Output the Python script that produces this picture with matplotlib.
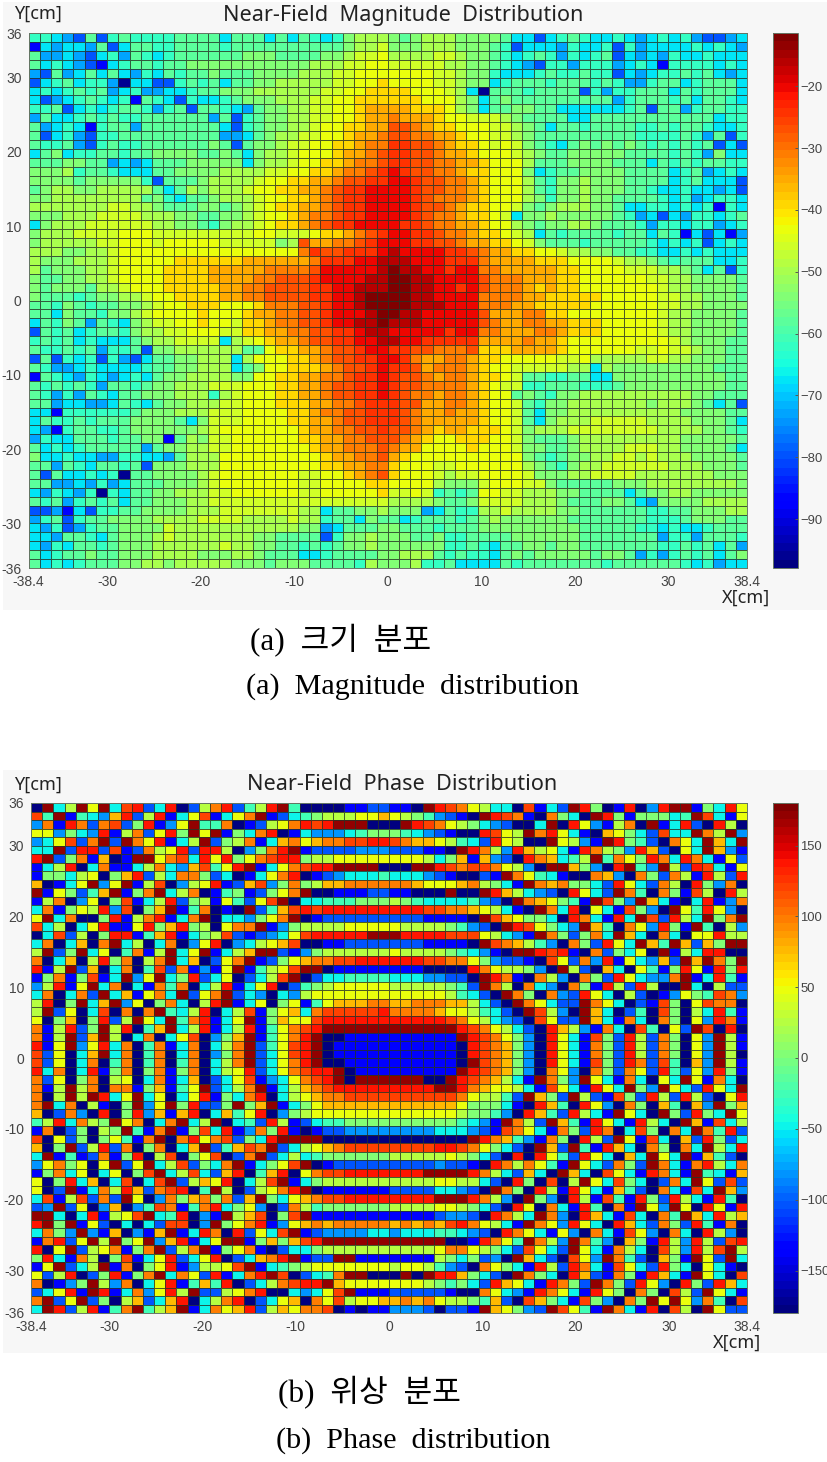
import numpy as np
import matplotlib
matplotlib.use("Agg")
import matplotlib.pyplot as plt
from matplotlib.patches import Rectangle

W, H = 827, 1462

# level letters
mag_levels = dict(zip("abcdefghijklmnopqrs",
                      [-96, -88, -79, -73, -67, -62, -58, -54, -50, -46, -43, -39, -35, -31, -27, -24, -20, -16, -12]))
phase_levels = dict(zip("abcdefghijklmn",
                        [-175, -140, -105, -80, -50, -25, 0, 25, 50, 75, 100, 120, 140, 170]))

# magnitude, top row (y=36) first, 64 cells per row
mag_rows = [
    "ffedcgcf gffffggg gegggege gfefhiii hghiiihh hhgeecef gfeefede fefdccde",
    "bedeedgc eggffggg gfgggggg gggghiij hhhiiihh hgfceeed feefcfde eeefefed",
    "gddedcef dgfefggg ggghhhgg gghhijjk iiiijjih hgfefgfd fefgcede dfeefeee",
    "gefedcbe fggfgghh hhhhhhhh hiiijjkk jjjjjiih hgfedcff dfffdefe bffffefe",
    "dcgdegeg edfegfgg hggghhhh iiijjkkk kkkkjjih hfeeefgf fgffcede ffgfgede",
    "cefgeffd aeeccfgf gegghhii iiijjkkl kkkkjjih hefgggfg ggfgfddf ggefggge",
    "efefgfgd efddeefg ghhhiiii iijjkkll llkkkjie agggfggg gcfdffgg gegfggge",
    "ecdefgfe fbgfecfe efghhhii ijjkklll lllkkkih eghggggg ggggdfgg gfgeggfe",
    "ffgcefef ggfdfgcg gfedghhi ijjkklmm mmlllkih egghhgge eeeeefgc ggdfggff",
    "dgeefgfg ffgggggg dgcfghhi ijjkklmm nmmmlkkj jjihgggg eegggggg gggggeff",
    "gdefebfg gdgggggg gecfghhi ijkkllmm oonmllkk kjjihgeg gfggggff gfggfeef",
    "gcefdcff gggggggg gddeghii jjkklmmn oonnmmlk kjjihggg ggggggff ffgfdgcf",
    "gffgdcfg ffgggggg hgcghhij jkkllmnn ppoonmll kjkjhgfe ghghghgf gfgfgcec",
    "egheffgg fgghhhhg ghgehiij kkklmmno ppoonmml kkkjihgg hhhhhggg gfgfdhee",
    "ggghhggd edeggghh hhhehiij kkllmnno ppoonnmm lkkkiggg hhhhggge gfgfggff",
    "hhhifggf eeegghhh hiiiijjk kllmnnop qpoonnml lkkkhefg ghhhhggg gefgdefe",
    "hhhhghhh hhfcgggh iiiijkkl lmmnoopp qqpoonnm lkkkigfh hihhhggg gefgeeec",
    "ghiihhii iiigegih iiijkkll mmnoppqq qqpoonnm lkkkigfh hihhhggf eefeedec",
    "hhiiiiii iighfegg hiiijkkl lmnoppqq qqponnnm lkkkihfh hihhgggg fefdeffe",
    "iiiiiiij jiihgggh hghijkll mmnoppqq qqpoonml lkkjhghi iihhgeef fefefbfe",
    "hhhiiijj jjiiihhg ghhijkkl mnnoppqq qqponnml lkjehhih hhhhgfde cedffefg",
    "ehiiijjj jjjiihhg fhiijkll mnoppqqq qpponnmm lkkihghh iihgggfd ffeffdef",
    "hiiijjjj kkkjjjjj jjjjkkjj jkllmnop qqpponnm llkjiegf ggggfgge gfbecebd",
    "hiiiiijj kkkjkkkk kjjjjjhi ommnnopq qqppoonm mllkjhgg gfgggggf efefcefe",
    "iiihhiij kkkkkkkk kkkkkkkk npoopppq rqqqqppo nmmllkkj iihhggff eefefeee",
    "ihhhiiij kkkkklll lllmmmmm mnpppqqr rrqqqppp nmmmmlll kkkkjiih gfgggeef",
    "ighhhiij kkkkllll mmmmmnnn noqqqqqr srrqqpqq nnmmmmml lkkkkjjj iihgegcf",
    "hgghhiij kkkkllll mmmmnnoo opqqqqrr ssrrqqqq onnnmmml lkkkkkkj jiihhhhg",
    "hghhhgii jkkkllll lmmnnooo oppqqrrr ssrrqqpq onnnmlml lkkkkkkk jiihhhhg",
    "hgggfghh iijkklll lmmnnooo oppqqrss ssrrqqqq nnnnmmll lllkkkkk jjiihhhg",
    "ggfhgfgg hhijkkll lkkklnnn oopqqrss ssrrrqqq nnnmmlll llkkkkkk jjiihhhh",
    "ggehggfh hijkkkkl kkklmmnn oopqqqrs srrqqqqq ommmnnll kkkkkkkk jiihhhhg",
    "egfhgdgf ehijjkkl kkjllmnn oopqqrrs rrrqqqqq onmmnnmm lllkkkkk jiihhhhg",
    "cgfgefgg fhiijjkk kjjllmmn nooppqrr qqqqqpqq nnmmmnnm lllkkkkk jiihhhhg",
    "fgfgefee eghiijjj jeijklmm nooppqqr rqqppppp mmmmnmml kkkkkkkk kjihhhgg",
    "gffgfgdf fgchhiii iiiggkll mmnoopqq ppoonnno lllmmmml kkkkkkjj kjjihhgg",
    "cgcfefcf dcegghhi iieikkkl lmnooppq qpnmmnnm llkkkkkj jkiiiiij jiihhhgg",
    "gfddefee eefgghhi iieghkkl llmnoopq ppomnnnm lkkjjjjj iieihhhh hhhhhggg",
    "bgfedfed efeghhii iihhkkll mmnnoppq poonmnnm llkjggff ggeehhhh hhhhhhgg",
    "gfgfgfdg gfghhiii jjjkkkll mmnooppq poonnnnm lkjjffgg gfffghhh hhhhhhgg",
    "gfdfdgfe gghhhiii fijkkkll mmnooppq ponnmnnm lkkghgfh hiiiiiii iiihhggg",
    "ggdeedde gfeghhii ijjkkkll lmmnnopp poommnnm lkkjgfhh iiiiiiih iiihgegc",
    "eebfffff fghhhiii jjjkkkkl lmnnoopp ponmmnmm lkkjgehh iiiiiiii iihhhhgg",
    "egffgfgg ghhhhgeh jjjkkkkl lmmnoopp ponmmmmm lkkjgehi iijjjjji iiihhhge",
    "edbfggff ghhhhhhi jkkkkkkk lmmnnoop oonmlmml llkjhiii jjjjjjjj iiiihhgf",
    "dfeegggf gghhbgih jjkkkkkk llmmnnoo onmlkkll lkkjhggg hiiiiiii iihhhhhg",
    "gefefggg ggdghhii jjkkkkkk klmmnnno nmmkkkkl kkkjhhgg hiiiijjj iihhhhge",
    "heefeedd ffeedgii ikkkkkkk kklmmnno mlkkkkkk kkkkhgfg hhiijjij iiihhhhg",
    "ggdgfegg fgchhhii ikkkkkkk kkllmmnn lkkkjjkk kkkkihgf hiijjjjj jiiihhhg",
    "gcgeefef agghhhhi jkkkkkkk jjkklmno lkkkjijj kkkkjhhh iijjjjii iiiiihhh",
    "ggddedfd eggghhhi jkkkkkkk jjkkkkll kkkkihhh jkkkjjhg gggghhhi iiiiiiih",
    "edfedfaf egghhiii jjkkkkkk jjkkkkkl jjkjfgfg kkjjiiih hggggegh hiihhhhh",
    "gfgdfgfg egghhhii jjjjjjjj jjjjjjjj iiiihggh jjjjiiih ggghhged hhhhiiii",
    "ccdbecff gghhhhii ijjjjjjj iiegghhi hhhdegff iijiiiih hggggggf fgghhhii",
    "dfgcfggh hhhiiiij jjjiiiij iifggehg gefgggfg hihhhhhh gggggggf ffghhhgg",
    "edfcdfgg hhhhjiii iiiiiiii hhdegggh hgggfggg hhhhhhhh hgggggff efeefggg",
    "eedggfeg hhhijiii iiiihhgg ggcfhhih hhgghffg ggghhhhh hggggggg dffdgggf",
    "edfeggfg hhhiiiii ijiihhgg fgfghhih hhhhhffg fegghhgh hggggggg ffgfgegd",
    "gefgghgg hhhiiiih hhiihggg eefggggh hiiigfgf feghghhh hhghhgdf dfgfgegh",
    "gefefggg hhiihiii iihhhghh hggggfih hhiffgee eegfgggg gggfgggg ggfefdee",
]

# phase, same layout
phase_rows = [
    "anehnine lmcemach kmcfhmnf aaaabbcc bbanmlki heealbec nmgabmad mnnbgemi",
    "lfnbfedj mchmbeil beiknbce fghhhiij ihgfdcba nmlkbakg eanmgbgg gefnlebi",
    "dkbmkckl cgmbdinf fkabchik mlmnnnaa anmlkihg edcaaena midbhkan bemcamha",
    "iidgedmb hkcimgni nbgekmab edddefgg gfedcbaa mlihnkmi ebajigec leenkhnd",
    "deilcknc nkimbehn cghkbejk ijkkllmm lkjjihfe cmihaani hdbnmgfc akienjen",
    "eencmmcl bckhimcm mhadgkmn bccccddd cccbbanm khdmjhie bmkhgdmj caienjdb",
    "mncgkbja bnniklem imgiklmm ghhiiiii iiihegjb jdcamkje fhnfkigm kemkebic",
    "behmaekb behkedjl fimnbeik lmmnnnna aannmlkl lkihdann jgdamnfd nhcmlebi",
    "bggehiag jmchekkg ceabeikm abcdeeef eeedcbaa cbnkifeb aakjdakg ckhbmhcm",
    "jabeindi nbhladhi mbcjldgk ghjjkkkk kkjiiijk hgebnkjk ggecmiec khamgdka",
    "nbigcfjn bgknehka bfgbcgik naabbbcc bbaaanaa nmjhedca miecnkfa kgblhamh",
    "bhkadiag lbehmcgh bifcilna eefffggg hgfeeeef dcankjig fbnlgdnj ebaembdk",
    "ekbgihmd lagjnbfk abancfjl mlmmmmmm mmmllkkj ihebanke maieblgd anifmida",
    "inekaagm bhkmbekn aeedgikn abcccccc cccbbbba nljiggea mkebmenl cmhengkn",
    "lehaeimb bimgjmgh aikknbdg hhhhiiii ihhhhgfd canmlige dnjfakid mgbnfahd",
    "aelchagm mbfjmbeg hlcbcdei lmmmmmnn nmmmmlll ihedbnkg cgkenjea keaiimhh",
    "ekaejakn ehaekadi madehijl aabbcccc cccbbbba nlkjhfda kgcmienj fnjcjgnn",
    "hncgneia fkbhnein behjnncb dghhhhhh ihhhhgfe dbannmlm bakcgeia nbhemmaa",
    "kaejahmg kahkneja ciknbcgi jkkllmmm mmmllkki gdccbali ckdmbied jcnjnkgn",
    "mbhncjae kaflckbd binbfhil nnabbbbb bbbaaaam kihhgdan hcajeaif bgmibmgm",
    "bgkbglbe ndinegmc eiacehln aceeffff eeeddcca nmkbakhd akgcmied dknbemfb",
    "dhmbinek aebkfkae hmbeimac fghiiiii hhhhhgfc nkhakeda kgbmhcmh aaneahcc",
    "ekaekcne jbikenci kncedaed hiiiiiii iiiiihfe cankgakd cmieahca bdigflkd",
    "hmagnejn diagkeah mnbeiagi bfijjjkk jjkkkjjh ecankiec cnkieacb lgailkka",
    "hnciaela kaknfehm aehlbgij eklllllm kkkkjiih fecanlhd anjeacfa lgahemfb",
    "iagjagmc hnienfkm beinbgji ilmmmmmm mmmmmlki hedcalic cnjebkea kgaidmkb",
    "kbhmcgnh mafjnehm behmbfik lmnnnnnn nnnnnnml kihecamj hdbkealf aicnlama",
    "kbhncjnh aekaeila dgjnbfik mnaabbbb bbbbbbnm lkigdami eblgcmhc kgaidnhb",
    "mbindime kafkbeka ehkncfil mnabbbbb bbbbbbam lkjgdami ebkgcmhc kgaidnhb",
    "lciaejne kafkaeka dgknceil mnabbbbb bbbbbbam lkjgdami ebkgcmhc kgaidnha",
    "lciaekaf kafkafka ehknceik mnaabbbb bbbbbban lkjgdami eblgcmkc lfajdnhb",
    "mekaembg kagkbgka ehimceik lmmnabbb bbbbbbnm lkjgdaki dakgckic mfcidmgb",
    "kciagkah iaekbeja ceilbdei klmnannn nnnaanml kjhebnkg dniebkea ienibkea",
    "kbhnhkak kbgjbfin cehknbeh jklmmmmm mmmmnnmk jiihebli ebmiengd niecmien",
    "kahnhnme ineiaeim bgekmaeh ijkkllll llllllki hhfcnjgc nhcblgcm hcmhcaim",
    "knekahba gndingmc cgngjnbe gijjjjjj jjjjjjig ggebamjf amidakga jfajdngj",
    "jackdama gmdjbjma ejfimadg hiiiiiii iiiiiihg gfdamjfc mhebniea ngcmgeni",
    "fhmekhgn ikaekneh naefcmhb ceffgggg ggggggfe dbnkhcnj fbmiebmh eanjbleh",
    "bkacgahg nfbknbgl embdkgmb abccdddd ddddeeed cblkiebk gcmkaelg akenkfmc",
    "laicgagi fbknakmi klcgemnn nnaaaaaa aaaaaaan mkjfdbkg amhcnibl eajcmgce",
    "jagnchmc kagkaejn cfjlknce hijkllll llllmmlk igecanjc nfbmjeak gakenhem",
    "enbfbckb gmahlagi lacknceh efgggggg hhhhhihg ecamamif cmieajen ienbjfca",
    "dikgiain cinehlcg eknbegil nabccccc ccccdccb amkhkifb nieckgcn kebkmhek",
    "bgkeiaei aglnehle cjmafjma ikllmmmm mmmnnnnm khecjean jealiebm kebnfebj",
    "iagmejae laelnchj imaehlnb eghhhhhh hhhhiihh ecamgala hnielgea ckeniclc",
    "iacnbekh mjcklmaf nhachikm nabbbbbb cccceedc ankgamhb miebjfca keblenjd",
    "elbhlckc niadkgjk gkcjngei jkllmmmm mmmmnnnm khdangda mhblfbmg cmhebmfa",
    "cdnciadj adflkbfk megidack hfgggggg hhhhiihg ecamiake bmfakbni dniamibm",
    "nneaembh ilnefmad bnhjlagl nbbbbbbb bbbbcddc amkhenkd amjeblea kfnjemhj",
    "mngnbica eaecllad ngikmbdi jkjkkkkk jkjkjlmk ihebnkid mieamjec kgcmfbka",
    "ekgdndbj adbjnbem kamcieln bcddddee deeeffed camkiebi dakeblid akeamhda",
    "bkmcinhn gindjmbe innbgjgj lmnnnnnn nnnnnaab mkifnkhd nkfdajgb mhdmhclm",
    "mainchik bgknchkn bgikbace eghhhhhh hhhhikki hgecliec niebkhea lhdmhlnh",
    "gmebkhag lbeimcei macejkmn bccnnbbb bbbbhgeg cdanjeca lidnkfca jgbnicne",
    "bincehnb kagimbdh hilnbefg hiiiiiii hiihfdca kigebmhc mkebliec mgeaieba",
    "ichmacgm bgknekic mbekmnla cefknnaa ananmmjg ecankgea mjcbkgbm jebnieal",
    "kabdgnhd kaeimbfj fmacehkl mmnjiiii iiihgfge cmjiebmk gcnkgcmi damgcmje",
    "ceimbnmb ekdimhnc chikmaae deilnbbb cccccbaa kiedbmki ebmigakg alhcnieb",
    "kncincga hjcejmae hkmaceij akilhiij jkjkihhg fjcaljge blgdakgn inidkfal",
    "enmchmbf knfhjnbe kijmchji kklababb dddcaccb njigdcnl ifbnkebm alhanicc",
]

x_ticks = [-38.4, -30, -20, -10, 0, 10, 20, 30, 38.4]
x_ticklabels = ["-38.4", "-30", "-20", "-10", "0", "10", "20", "30", "38.4"]
y_ticks = [36, 30, 20, 10, 0, -10, -20, -30, -36]
mag_bar_ticks = [-20, -30, -40, -50, -60, -70, -80, -90]
phase_bar_ticks = [150, 100, 50, 0, -50, -100, -150]


def decode(rows, levels):
    out = []
    for i, row in enumerate(rows):
        cells = row.replace(" ", "")
        if len(cells) != 64:
            raise ValueError(f"row {i} has {len(cells)} cells: {row}")
        out.append([levels[c] for c in cells])
    return np.array(out, dtype=float)


def px_axes(fig, left, top, right, bottom):
    return fig.add_axes([left / W, 1 - bottom / H, (right - left) / W, (bottom - top) / H])


def panel_text(fig, x, y, s, **kw):
    fig.text(x / W, 1 - y / H, s, va="center", **kw)


def draw_panel(fig, data, vmin, vmax, left, top, bottom, bar_ticks, title, title_x, title_y, ylab_y, xlab_x, xlab_y):
    ax = px_axes(fig, left, top, 747, bottom)
    xe = np.linspace(-38.4, 38.4, 65)
    ye = np.linspace(36, -36, 61)
    mesh = ax.pcolormesh(xe, ye, data, cmap=plt.get_cmap("jet", 64), vmin=vmin, vmax=vmax,
                         edgecolors=(0.15, 0.2, 0.15, 0.8), linewidth=0.45)
    ax.set_xlim(-38.4, 38.4)
    ax.set_ylim(-36, 36)
    ax.set_xticks(x_ticks, x_ticklabels)
    ax.set_yticks(y_ticks, [str(v) for v in y_ticks])
    ax.tick_params(length=0, labelsize=10, labelcolor="#444444", pad=5)
    for t in ax.get_xticklabels() + ax.get_yticklabels():
        t.set_family("Liberation Sans")
    for s in ax.spines.values():
        s.set_color("#667766")
        s.set_linewidth(0.7)

    cax = px_axes(fig, 773, top, 798, bottom)
    cb = fig.colorbar(mesh, cax=cax)
    cb.set_ticks(bar_ticks)
    cb.ax.tick_params(direction="in", length=2, width=0.7, color="#555555", labelsize=9.4,
                      labelcolor="#444444", pad=1.5)
    for t in cb.ax.get_yticklabels():
        t.set_family("Liberation Sans")
    cb.outline.set_edgecolor("#667766")
    cb.outline.set_linewidth(0.7)

    panel_text(fig, title_x, title_y, title, ha="center", family="Noto Sans", fontsize=15.6, color="#222222")
    panel_text(fig, 38, ylab_y, "Y[cm]", ha="center", family="Noto Sans", fontsize=13, color="#222222")
    panel_text(fig, xlab_x, xlab_y, "X[cm]", ha="center", family="Noto Sans", fontsize=13, color="#222222")


fig = plt.figure(figsize=(W / 100, H / 100), dpi=100, facecolor="white")

# the two screenshot backgrounds
for y0, y1 in [(2, 610), (770, 1353)]:
    fig.patches.append(Rectangle((3 / W, 1 - y1 / H), 824 / W, (y1 - y0) / H, transform=fig.transFigure,
                                 facecolor="#f7f7f7", edgecolor="none", zorder=-5))

mag_data = decode(mag_rows, mag_levels)
phase_data = decode(phase_rows, phase_levels)

draw_panel(fig, mag_data, -97.9, -11.4, 28.5, 33, 568, mag_bar_ticks,
           "Near-Field  Magnitude  Distribution", 403, 15, 14, 746, 598)
draw_panel(fig, phase_data, -180, 180, 31, 803, 1313, phase_bar_ticks,
           "Near-Field  Phase  Distribution", 402, 785, 785, 737, 1343)

serif = ["Liberation Serif", "Noto Sans CJK KR"]
panel_text(fig, 341, 641, "(a)  크기  분포", ha="center", family=serif, fontsize=22.5)
panel_text(fig, 413, 687, "(a)  Magnitude  distribution", ha="center", family=serif, fontsize=21.7)
panel_text(fig, 370, 1393, "(b)  위상  분포", ha="center", family=serif, fontsize=22.5)
panel_text(fig, 413, 1441, "(b)  Phase  distribution", ha="center", family=serif, fontsize=21.7)

fig.savefig("out.png", dpi=100)
